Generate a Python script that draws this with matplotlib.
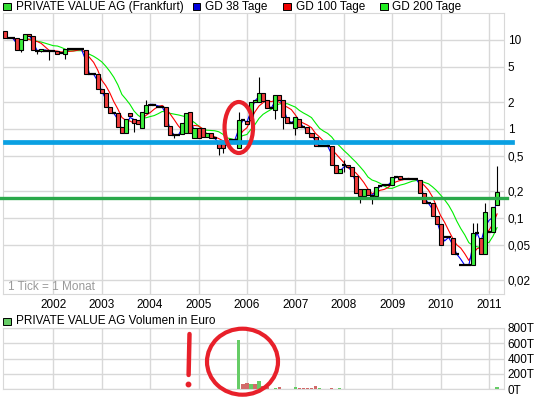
import numpy as np
import pandas as pd
import matplotlib
matplotlib.use("Agg")
import matplotlib.pyplot as plt
from matplotlib.patches import Rectangle, Ellipse

plt.rcParams['font.family'] = ['Liberation Sans', 'DejaVu Sans']

# monthly candles, month 0 = Jan 2001 (prices in EUR)
opens = [12.6, 10.4, 10.4, 10.45, 7.66, 10.0, 11.6, 11.1, 7.52, 7.52,
         7.52, 7.52, 7.52, 7.52, 7.33, 7.02, 7.82, 7.82, 7.82, 7.82,
         7.72, 4.12, 4.12, 4.12, 2.81, 2.54, 1.78, 1.50, 1.50, 1.06,
         0.909, 1.50, 1.29, 1.26, 1.03, 1.51, 1.86, 1.86, 1.77, 1.77,
         1.75, 1.08, 0.856, 0.856, 0.872, 0.909, 1.55, 0.786, 1.02, 1.02,
         0.813, 0.902, 0.786, 0.696, 0.696, 0.714, 0.752, 0.752, 0.607, 1.26,
         1.23, 1.26, 2.03, 2.03, 2.52, 2.12, 1.71, 1.64, 2.41, 2.12,
         1.37, 1.18, 1.02, 1.29, 1.06, 1.06, 0.909, 0.819, 0.644, 0.644,
         0.644, 0.644, 0.394, 0.318, 0.394, 0.394, 0.371, 0.296, 0.212, 0.177,
         0.212, 0.177, 0.177, 0.229, 0.235, 0.235, 0.235, 0.289, 0.296, 0.272,
         0.272, 0.272, 0.272, 0.267, 0.192, 0.146, 0.146, 0.105, 0.0856, 0.0607,
         0.0607, 0.0591, 0.0394, 0.0294, 0.0294, 0.0294, 0.0294, 0.0684, 0.0591, 0.0394,
         0.0702, 0.0702, 0.140]
closes = [10.45, 10.4, 10.4, 7.66, 10.2, 11.6, 11.1, 7.66, 7.52, 7.92,
          7.52, 7.52, 7.52, 7.02, 7.05, 7.86, 7.82, 7.82, 7.82, 7.82,
          4.12, 4.12, 4.12, 2.81, 2.54, 1.78, 1.50, 1.50, 1.06, 0.895,
          1.29, 1.40, 1.16, 1.14, 1.55, 1.88, 1.91, 1.86, 1.77, 1.77,
          1.08, 0.856, 0.856, 0.856, 1.18, 1.52, 0.902, 1.02, 0.786, 0.819,
          0.902, 0.786, 0.786, 0.612, 0.612, 0.714, 0.752, 0.752, 1.26, 1.26,
          1.14, 2.03, 2.12, 2.52, 2.08, 1.71, 1.71, 2.41, 2.12, 1.37,
          1.18, 1.18, 1.35, 1.045, 1.06, 0.895, 0.819, 0.644, 0.644, 0.644,
          0.644, 0.394, 0.318, 0.353, 0.394, 0.371, 0.296, 0.192, 0.177, 0.212,
          0.181, 0.177, 0.225, 0.229, 0.235, 0.235, 0.289, 0.289, 0.272, 0.272,
          0.272, 0.272, 0.272, 0.192, 0.146, 0.146, 0.105, 0.0856, 0.0497, 0.0607,
          0.0607, 0.0394, 0.0394, 0.0294, 0.0294, 0.0294, 0.0684, 0.0684, 0.0394, 0.118,
          0.0702, 0.134, 0.194]
wick_hi_month = [35, 58, 63, 84, 116, 117, 119, 122]
wick_hi_value = [2.12, 1.56, 3.87, 0.45, 0.0886, 0.0886, 0.147, 0.384]
wick_lo_month = [4, 8, 9, 11, 15, 32, 42, 53, 54, 67, 69, 72, 84, 88, 91]
wick_lo_value = [7.39, 6.96, 7.33, 5.96, 6.12, 0.933, 0.792, 0.510, 0.538, 1.30,
                 1.0, 0.856, 0.33, 0.147, 0.144]

years = ['2002', '2003', '2004', '2005', '2006', '2007', '2008', '2009', '2010', '2011']
price_ticks = [0.02, 0.05, 0.1, 0.2, 0.5, 1, 2, 5, 10]
price_labels = ['0,02', '0,05', '0,1', '0,2', '0,5', '1', '2', '5', '10']

vol_month = [58, 59, 60, 61, 62, 63, 64, 65, 67, 68, 72, 73, 74, 75, 76, 77, 78, 81, 83, 122]
vol_k = [640, 65, 75, 60, 70, 105, 45, 20, 13, 22, 26, 13, 13, 13, 13, 40, 13, 13, 13, 30]
vol_up = [1, 0, 0, 1, 0, 1, 0, 0, 1, 0, 1, 0, 0, 0, 0, 0, 1, 0, 1, 1]
vol_ticks = [0, 200, 400, 600, 800]
vol_labels = ['0T', '200T', '400T', '600T', '800T']

blue_level = 0.714
green_level = 0.166

# ------------------------------------------------------------------
n = len(closes)
months = np.arange(n)
opens = np.array(opens)
closes = np.array(closes)
highs = np.maximum(opens, closes)
lows = np.minimum(opens, closes)
highs[wick_hi_month] = wick_hi_value
lows[wick_lo_month] = wick_lo_value

s = pd.Series(closes)
gd38 = s.rolling(2, min_periods=1).mean()
gd100 = s.rolling(5, min_periods=1).mean()
gd200 = s.rolling(10, min_periods=1).mean()

W, H = 545, 398
FS = 8.5
fig = plt.figure(figsize=(W / 100, H / 100), dpi=100)
L, R = 2.7, 503.5
ax = fig.add_axes([L / W, 1 - 293.5 / H, (R - L) / W, 280.5 / H])
axv = fig.add_axes([L / W, 1 - 389 / H, (R - L) / W, 61 / H])

grid_c = '#d8d8d8'
up_c, down_c = '#3df03d', '#f03c3c'
xlim = (12 - (53.3 - L) / 4.034, 120 + (R - 489) / 4.034)

for a in (ax, axv):
    a.set_xlim(*xlim)
    a.set_xticks(np.arange(12, 121, 12))
    a.grid(True, color=grid_c, lw=1.0)
    a.set_axisbelow(True)
    for sp in a.spines.values():
        sp.set_color(grid_c)
    a.yaxis.tick_right()
    a.tick_params(length=0, labelsize=FS, pad=3)

# moving averages
ax.plot(months, gd200, color='#00ee00', lw=0.8, zorder=2)
ax.plot(months, gd100, color='#ff0000', lw=0.8, zorder=2)
ax.plot(months, gd38, color='#0000ff', lw=0.8, zorder=2)

# candles
for i in range(n):
    o, c = opens[i], closes[i]
    lo, hi = min(o, c), max(o, c)
    if hi > lo * 1.001:
        ax.add_patch(Rectangle((i - 0.5, lo), 1.0, hi - lo,
                               facecolor=up_c if c > o else down_c,
                               edgecolor='black', lw=0.8, zorder=4))
    else:
        ax.hlines(o, i - 0.5, i + 0.5, color='black', lw=1.6, zorder=4)
    if highs[i] > hi:
        ax.vlines(i, hi, highs[i], color='black', lw=0.8, zorder=3)
    if lows[i] < lo:
        ax.vlines(i, lows[i], lo, color='black', lw=0.8, zorder=3)

ax.set_yscale('log')
ax.set_ylim(0.01418, 20.1)
ax.set_yticks(price_ticks)
ax.set_yticklabels(price_labels)
ax.minorticks_off()
ax.set_xticklabels(years)
ax.tick_params(axis='x', pad=4)

# drawn-in marks
ax.axhline(blue_level, xmin=(5 - L) / (R - L), xmax=(512 - L) / (R - L),
           color='#0aa0e2', lw=3.4, clip_on=False, zorder=6)
ax.axhline(green_level, xmin=(0 - L) / (R - L), xmax=(507 - L) / (R - L),
           color='#2aa84a', lw=2.4, clip_on=False, zorder=6)

# volume
axv.bar(vol_month, vol_k, width=0.8,
        color=['#66cc66' if u else '#d26a6a' for u in vol_up], zorder=3)
axv.set_ylim(0, 800)
axv.set_yticks(vol_ticks)
axv.set_yticklabels(vol_labels)
axv.set_xticklabels([])

# overlay in pixel coordinates for legends and hand-drawn marks
axo = fig.add_axes([0, 0, 1, 1], zorder=10)
axo.set_xlim(0, W)
axo.set_ylim(H, 0)
axo.axis('off')

legend = [(3.3, '#33dd33', 'PRIVATE VALUE AG (Frankfurt)'),
          (192.7, '#0000dd', 'GD 38 Tage'),
          (283.3, '#ee0000', 'GD 100 Tage'),
          (380.0, '#22ee22', 'GD 200 Tage')]
for x0, col, label in legend:
    axo.add_patch(Rectangle((x0, 2.8), 7.5, 7.3, facecolor=col, edgecolor='black', lw=0.7))
    axo.text(x0 + 12.5, 6.6, label, va='center', ha='left', fontsize=FS)

axo.add_patch(Rectangle((3.3, 317.6), 7.5, 7.0, facecolor='#66cc66', edgecolor='black', lw=0.7))
axo.text(15.8, 321.2, 'PRIVATE VALUE AG Volumen in Euro', va='center', ha='left', fontsize=FS)
axo.text(8.3, 287.2, '1 Tick = 1 Monat', va='center', ha='left', fontsize=FS, color='#999999')

red_c = '#e8202a'
axo.add_patch(Ellipse((238.8, 127.5), 28.5, 51, fill=False, edgecolor=red_c, lw=3.0))
axo.add_patch(Ellipse((242.5, 361.7), 71, 66, fill=False, edgecolor=red_c, lw=3.0))
axo.plot([189.5, 188.6], [334, 375], color=red_c, lw=3.2, solid_capstyle='round')
axo.plot([188.4], [384], 'o', color=red_c, ms=3.2)

fig.savefig('out.png', dpi=100)
